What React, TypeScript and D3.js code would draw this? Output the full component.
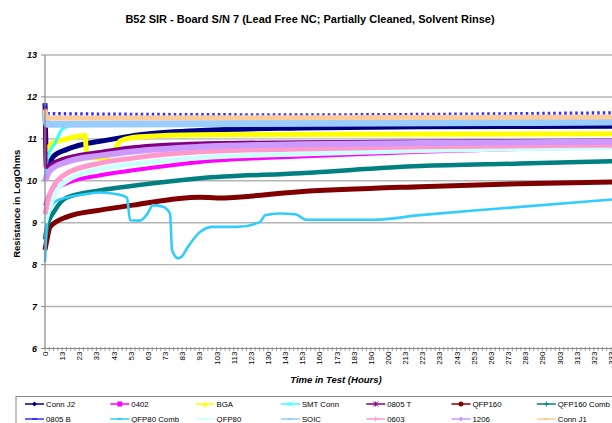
import React from 'react';
import * as d3 from 'd3';

const TITLE = 'B52 SIR - Board S/N 7 (Lead Free NC; Partially Cleaned, Solvent Rinse)';
const X_TITLE = 'Time in Test (Hours)';
const Y_TITLE = 'Resistance in LogOhms';
const X_LABELS = [0, 13, 23, 33, 43, 53, 63, 73, 83, 93, 103, 113, 123, 130, 143, 153, 160, 173, 183, 190, 200, 213, 223, 233, 243, 253, 263, 273, 283, 290, 303, 313, 323, 333];
const Y_TICKS = [6, 7, 8, 9, 10, 11, 12, 13];

const SERIES_NAMES = ['Conn J2', '0402', 'BGA', 'SMT Conn', '0805 T', 'QFP160', 'QFP160 Comb', '0805 B', 'QFP80 Comb', 'QFP80', 'SOIC', '0603', '1206', 'Conn J1'];
const SERIES_COLORS = ['#000080', '#FF00FF', '#FFFF00', '#33FFFF', '#800080', '#800000', '#008080', '#3333FF', '#33CCFF', '#CCFFFF', '#99CCFF', '#FF99CC', '#CC99FF', '#FFCC99'];
const SERIES_MARKERS = ['diamond', 'square', 'triangle', 'x', 'star', 'circle', 'plus', 'dash', 'dash', 'dash', 'dash', 'plus', 'diamond', 'dash'];
const SERIES_WIDTHS = [5, 4, 5, 3, 4, 5, 4.5, 3.5, 2.6, 5, 7, 5, 6, 5];

// [hours, log ohms]
const connJ2 = [[0, 11.85], [1.5, 10.3], [6.1, 10.57], [15.8, 10.75], [26.3, 10.88], [39.2, 10.97], [58.4, 11.1], [93.4, 11.2], [151.7, 11.26], [221.7, 11.29], [336, 11.3]];
const s0402 = [[0, 9.4], [3.8, 9.7], [15.8, 9.94], [35.1, 10.13], [54.3, 10.25], [93.4, 10.45], [151.7, 10.58], [221.7, 10.69], [280, 10.76], [336, 10.81]];
const bga = [[0, 10.7], [1.5, 10.75], [5.3, 10.9], [12.9, 10.97], [26.3, 11.08], [27.5, 10.55], [38, 10.55], [43.8, 10.75], [46.7, 10.95], [58.4, 11.05], [93.4, 11.1], [336, 11.12]];
const smtConn = [[0, 10.1], [2.3, 10.6], [7.6, 10.9], [13.5, 11.25], [23.4, 11.35], [336, 11.38]];
const s0805T = [[0, 11.75], [0.5, 10.33], [7.6, 10.45], [15.8, 10.55], [35.1, 10.69], [54.3, 10.8], [93.4, 10.89], [151.7, 10.92], [336, 10.96]];
const qfp160 = [[0, 8.35], [1.5, 8.6], [3.8, 8.9], [15.8, 9.14], [35.1, 9.3], [54.3, 9.42], [93.4, 9.61], [103.3, 9.59], [151.7, 9.74], [221.7, 9.86], [280, 9.93], [336, 9.97]];
const qfp160Comb = [[0, 8.6], [1.5, 8.9], [7.6, 9.3], [15.8, 9.6], [35.1, 9.77], [54.3, 9.88], [93.4, 10.06], [151.7, 10.18], [221.7, 10.35], [280, 10.41], [336, 10.47]];
const s0805B = [[0, 11.85], [1.5, 11.6], [151.7, 11.57], [336, 11.62]];
const qfp80Comb = [[0, 8.06], [1.5, 9.0], [3.8, 9.3], [7.6, 9.5], [15.8, 9.6], [26.3, 9.68], [35.1, 9.72], [45, 9.68], [50.8, 9.6], [52.6, 9.06], [58.4, 9.05], [62.5, 9.2], [66, 9.42], [71.8, 9.38], [75.9, 9.22], [77.1, 8.34], [80.6, 8.15], [82.9, 8.2], [85.8, 8.39], [93.4, 8.78], [101, 8.9], [115, 8.9], [126.8, 9.02], [128.8, 9.18], [139.1, 9.22], [148.8, 9.2], [155, 9.07], [191.3, 9.07], [221.7, 9.18], [268.3, 9.34], [336, 9.56]];
const qfp80 = [[0, 9.0], [7.6, 9.7], [15.8, 10.0], [35.1, 10.28], [54.3, 10.4], [93.4, 10.55], [151.7, 10.64], [221.7, 10.72], [336, 10.8]];
const soic = [[0, 11.6], [1.5, 11.35], [336, 11.4]];
const s0603 = [[0, 9.2], [3.8, 9.7], [15.8, 10.18], [35.1, 10.42], [54.3, 10.54], [93.4, 10.69], [151.7, 10.76], [221.7, 10.81], [336, 10.85]];
const s1206 = [[0, 10.0], [3.8, 10.25], [15.8, 10.45], [35.1, 10.6], [54.3, 10.7], [93.4, 10.81], [151.7, 10.87], [221.7, 10.9], [336, 10.93]];
const connJ1 = [[0, 11.7], [1.5, 11.5], [336, 11.52]];

const SERIES_DATA = [connJ2, s0402, bga, smtConn, s0805T, qfp160, qfp160Comb, s0805B, qfp80Comb, qfp80, soic, s0603, s1206, connJ1];

const W = 612;
const H = 423;
const FONT = '"Liberation Sans", Arial, sans-serif';

function Marker({ type, x, y, color }: { type: string; x: number; y: number; color: string }) {
  const s = 2.5;
  switch (type) {
    case 'diamond':
      return <path d={`M${x},${y - s}L${x + s},${y}L${x},${y + s}L${x - s},${y}Z`} fill={color} />;
    case 'square':
      return <rect x={x - s} y={y - s} width={2 * s} height={2 * s} fill={color} />;
    case 'triangle':
      return <path d={`M${x},${y - s}L${x + s},${y + s}L${x - s},${y + s}Z`} fill={color} />;
    case 'circle':
      return <circle cx={x} cy={y} r={s} fill={color} />;
    case 'x':
      return <path d={`M${x - s},${y - s}L${x + s},${y + s}M${x - s},${y + s}L${x + s},${y - s}`} stroke={color} strokeWidth={1} />;
    case 'star':
      return <path d={`M${x - s},${y - s}L${x + s},${y + s}M${x - s},${y + s}L${x + s},${y - s}M${x},${y - s}L${x},${y + s}`} stroke={color} strokeWidth={1} />;
    case 'plus':
      return <path d={`M${x - s},${y}L${x + s},${y}M${x},${y - s}L${x},${y + s}`} stroke={color} strokeWidth={1} />;
    default:
      return <path d={`M${x - s},${y}L${x + s},${y}`} stroke={color} strokeWidth={2} />;
  }
}

export default function App() {
  const left = 45;
  const step = 17.15;
  const top = 55;
  const bottom = 348.5;
  const idx = d3.scaleLinear().domain([0, X_LABELS.length - 1]).range([left, left + (X_LABELS.length - 1) * step]);
  const x = d3.scaleLinear().domain(X_LABELS).range(X_LABELS.map((_, i) => idx(i)));
  const y = d3.scaleLinear().domain([6, 13]).range([bottom, top]);
  const rightEdge = 640;

  const line = d3
    .line<number[]>()
    .x((d) => x(d[0]))
    .y((d) => y(d[1]))
    .curve(d3.curveMonotoneX);

  const minorTicks = d3.range(0, (X_LABELS.length - 1) * 4 + 8).map((i) => idx(i / 4));

  const legendTop = 396.5;
  const colW = 85.3;
  const legendX0 = 25;

  return (
    <svg width={W} height={H} style={{ position: 'absolute', left: 0, top: 0, background: '#fff' }} fontFamily={FONT}>
      <rect x={0} y={0} width={W} height={H} fill="#fff" />
      <text x={310} y={23} textAnchor="middle" fontSize={11} fontWeight="bold" fill="#000">
        {TITLE}
      </text>

      {/* gridlines */}
      {Y_TICKS.filter((t) => t > 6).map((t) => (
        <line key={t} x1={left} x2={rightEdge} y1={y(t)} y2={y(t)} stroke="#b4b4b4" strokeWidth={1.4} />
      ))}
      {Y_TICKS.map((t) => (
        <g key={'yt' + t}>
          <line x1={left - 4} x2={left} y1={y(t)} y2={y(t)} stroke="#888" strokeWidth={1} />
          <text x={37} y={y(t)} dy="0.35em" textAnchor="end" fontSize={9} fontWeight="bold" fontStyle="italic" fill="#000">
            {t}
          </text>
        </g>
      ))}

      {/* series */}
      {SERIES_DATA.map((d, i) => (
        <path
          key={SERIES_NAMES[i]}
          d={line(d) || ''}
          fill="none"
          stroke={SERIES_COLORS[i]}
          strokeWidth={SERIES_WIDTHS[i]}
          strokeDasharray={SERIES_NAMES[i] === '0805 B' ? '2.5 3' : undefined}
          strokeLinejoin="round"
        />
      ))}

      {/* axes */}
      <line x1={left} x2={left} y1={top} y2={bottom} stroke="#888" strokeWidth={1.2} />
      <line x1={left} x2={rightEdge} y1={bottom} y2={bottom} stroke="#888" strokeWidth={1.2} />
      {minorTicks.map((tx, i) => (
        <line key={'mt' + i} x1={tx} x2={tx} y1={bottom - 1.5} y2={bottom + 2.5} stroke="#888" strokeWidth={0.8} />
      ))}
      {X_LABELS.map((l, i) => (
        <text
          key={'xl' + i}
          transform={`translate(${idx(i) + 3},${bottom + 3}) rotate(-90)`}
          textAnchor="end"
          fontSize={8}
          fill="#000"
        >
          {l}
        </text>
      ))}
      <text x={336} y={383} textAnchor="middle" fontSize={9.5} fontWeight="bold" fontStyle="italic" fill="#000">
        {X_TITLE}
      </text>
      <text transform={`translate(20,${(top + bottom) / 2 + 2}) rotate(-90)`} textAnchor="middle" fontSize={9.5} fontWeight="bold" fill="#000">
        {Y_TITLE}
      </text>

      {/* legend */}
      <rect x={16} y={legendTop} width={640} height={40} fill="#fff" stroke="#888" strokeWidth={1} />
      {SERIES_NAMES.map((n, i) => {
        const col = i % 7;
        const row = Math.floor(i / 7);
        const lx = legendX0 + col * colW;
        const ly = legendTop + 7.5 + row * 15;
        return (
          <g key={'lg' + n}>
            <line x1={lx} x2={lx + 19} y1={ly} y2={ly} stroke={SERIES_COLORS[i]} strokeWidth={1.5} />
            <Marker type={SERIES_MARKERS[i]} x={lx + 9.5} y={ly} color={SERIES_COLORS[i]} />
            <text x={lx + 21} y={ly} dy="0.35em" fontSize={7.8} fill="#000">
              {n}
            </text>
          </g>
        );
      })}
    </svg>
  );
}
